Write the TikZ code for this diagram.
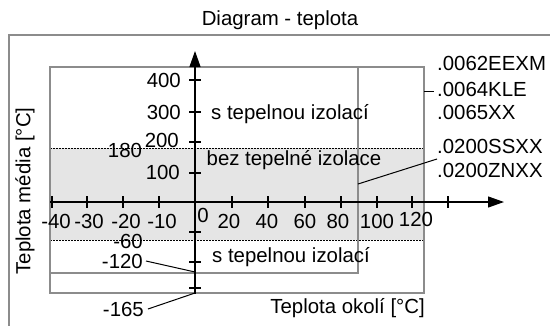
\documentclass[tikz,border=0pt]{standalone}
\usepackage{fontspec}
\setmainfont{Liberation Sans}
\usetikzlibrary{arrows.meta}
\begin{document}
\begin{tikzpicture}[x=1pt,y=-1pt,
  lbl/.style={inner sep=0pt, font=\fontsize{20.4}{23}\selectfont, text height=14.6pt, text depth=0pt},
  frameline/.style={draw=black!45, line width=1.3pt},
  boxline/.style={draw=black!45, line width=2pt},
  axisline/.style={draw=black, line width=1.2pt, -{Triangle[length=16pt,width=11pt]}},
  tickline/.style={draw=black, line width=1.1pt},
  leader/.style={draw=black, line width=1pt},
  limitline/.style={draw=black, line width=0.8pt, dash pattern=on 2pt off 1pt},
  zone/.style={fill=black!10},
]
\useasboundingbox (0,0) rectangle (550,325);
\fill[white] (0,0) rectangle (550,325);
% outer frame
\coordinate (fbl) at (9,326);
\coordinate (ftl) at (9,35);
\coordinate (ftr) at (551,35);
\draw[frameline] (fbl) -- (ftl) -- (ftr);
\node[lbl] (title) at (280,18) {Diagram - teplota};
% shaded zone without insulation
\coordinate (ztl) at (50,148);
\coordinate (zbr) at (424,240);
\fill[zone] (ztl) rectangle (zbr);
\coordinate (ztr) at (424,148);
\coordinate (zbl) at (50,240);
\draw[limitline] (ztl) -- (ztr);
\draw[limitline] (zbl) -- (zbr);
% boxes
\coordinate (btl) at (50,67);
\coordinate (ibr) at (358,273);
\coordinate (obr) at (424,293);
\draw[boxline] (btl) rectangle (ibr);
\draw[boxline] (btl) rectangle (obr);
% axes
\coordinate (xs) at (50,202);
\coordinate (xe) at (504,202);
\coordinate (ys) at (195,294);
\coordinate (ye) at (195,51);
\draw[axisline] (xs) -- (xe);
\draw[axisline] (ys) -- (ye);
% x ticks
\foreach \x in {52,87,123,159,232,268,305,341,377,412,448}
  \draw[tickline] (\x,196) -- (\x,208);
% y ticks
\foreach \y in {80,112,142,173,232,262,288}
  \draw[tickline] (189,\y) -- (201,\y);
% x labels
\foreach \x/\t/\n in {56/-40/xa,89/-30/xb,126/-20/xc,162/-10/xd,229/20/xf,267/40/xg,305/60/xh,338/80/xi,377/100/xj}
  \node[lbl] (\n) at (\x,221) {\t};
\node[lbl] (x0) at (203,215) {0};
\node[lbl] (x120) at (416,219) {120};
% y labels
\node[lbl, anchor=east] (y400) at (181,80) {400};
\node[lbl, anchor=east] (y300) at (181,112) {300};
\node[lbl, anchor=east] (y200) at (179,140) {200};
\node[lbl] (y180) at (125,150) {180};
\node[lbl, anchor=east] (y100) at (180,172) {100};
\node[lbl] (ym60) at (128,241) {-60};
\node[lbl, anchor=east] (ym120) at (143,261) {-120};
\node[lbl, anchor=east] (ym165) at (144,309) {-165};
\coordinate (p120) at (195,272);
\coordinate (p165) at (195,293);
\draw[leader] (ym120.east) ++(3,0) coordinate (l120) (l120) -- (p120);
\draw[leader] (ym165.east) ++(4,0) coordinate (l165) (l165) -- (p165);
% zone texts
\node[lbl, anchor=west] (t1) at (211,112) {s tepelnou izolací};
\node[lbl] (t2) at (294,158) {bez tepelné izolace};
\node[lbl, anchor=west] (t3) at (212,255) {s tepelnou izolací};
% axis titles
\node[lbl, rotate=90] (ylab) at (23,191) {Teplota média [°C]};
\node[lbl, anchor=east] (xlab) at (425,306) {Teplota okolí [°C]};
% right labels
\node[lbl, anchor=west] (r1) at (437,63) {.0062EEXM};
\node[lbl, anchor=west] (r2) at (437,89) {.0064KLE};
\node[lbl, anchor=west] (r3) at (437,112) {.0065XX};
\node[lbl, anchor=west] (r4) at (437,146) {.0200SSXX};
\node[lbl, anchor=west] (r5) at (437,170) {.0200ZNXX};
\coordinate (k1) at (424,91);
\coordinate (k2) at (358,184);
\draw[leader] (k1) -- ([xshift=-3pt,yshift=-2pt]r2.west);
\draw[leader] (k2) -- (437,159);
\end{tikzpicture}
\end{document}
